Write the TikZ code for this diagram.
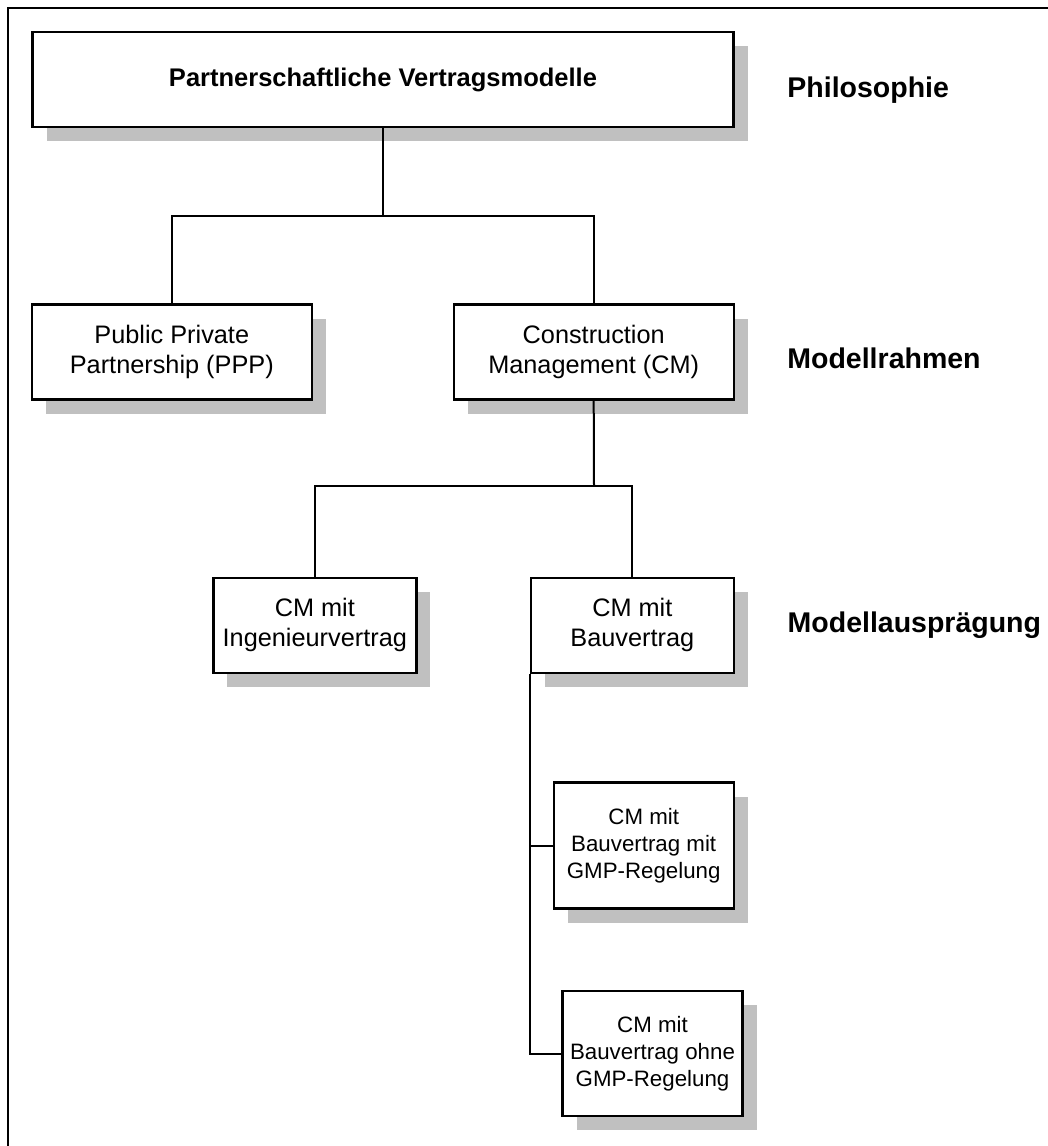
\documentclass[tikz,border=0pt]{standalone}
\usepackage{fontspec}
\setmainfont{Liberation Sans}
\usetikzlibrary{shadows}
\definecolor{ShadowGray}{RGB}{192,192,192}

\begin{document}
\begin{tikzpicture}[
    x=0.5pt, y=-0.5pt,
    every node/.style={align=center, inner sep=0pt},
    box/.style={draw, fill=white, line width=1.2pt,
        font=\fontsize{12.65pt}{15pt}\selectfont,
        drop shadow={shadow xshift=7pt, shadow yshift=-7pt, fill=ShadowGray, opacity=1}},
    smallbox/.style={box, font=\fontsize{11.15pt}{13.5pt}\selectfont},
    levellabel/.style={anchor=base west, font=\fontsize{14.25pt}{17pt}\selectfont\bfseries},
    link/.style={draw, line width=1pt},
]
\useasboundingbox (0,0) rectangle (1048,1146);
\draw[line width=1pt] (8,1146) -- (8,8) -- (1048,8);

% Philosophie
\node[box, minimum width=350.5pt, minimum height=47.5pt,
      font=\fontsize{12.75pt}{15pt}\selectfont\bfseries] (top) at (383,79.5)
    {Partnerschaftliche Vertragsmodelle};
\node[levellabel] (philo) at (787,97) {Philosophie};

% Modellrahmen
\node[box, minimum width=140pt, minimum height=47.5pt] (ppp) at (171.8,352.1)
    {Public Private\\Partnership (PPP)};
\node[box, minimum width=140pt, minimum height=47.5pt] (cm) at (593.7,352.1)
    {Construction\\Management (CM)};
\node[levellabel] (rahmen) at (787,368) {Modellrahmen};

% Modellauspraegung
\node[box, minimum width=101.5pt, minimum height=47.5pt] (ing) at (314.8,625.2)
    {CM mit\\Ingenieurvertrag};
\node[box, minimum width=101.5pt, minimum height=47.5pt] (bau) at (632.3,625.2)
    {CM mit\\Bauvertrag};
\node[levellabel] (auspr) at (787.3,632) {Modellausprägung};

\node[smallbox, minimum width=90pt, minimum height=63pt] (gmp) at (643.7,845.5)
    {CM mit\\Bauvertrag mit\\GMP-Regelung};
\node[smallbox, minimum width=90pt, minimum height=62.5pt] (ohne) at (652.5,1053.5)
    {CM mit\\Bauvertrag ohne\\GMP-Regelung};

% connectors
\coordinate (j1) at (383,216);
\coordinate (j2) at (594,485.7);
\draw[link] (top.south) -- (j1);
\draw[link] (ppp.north) |- (j1) -| (cm.north);
\draw[link] (cm.south) -- (j2);
\draw[link] (ing.north) |- (j2) -| (bau.north);
\draw[link] (bau.south west) |- (ohne.west);
\draw[link] (bau.south west) |- (gmp.west);
\end{tikzpicture}
\end{document}
